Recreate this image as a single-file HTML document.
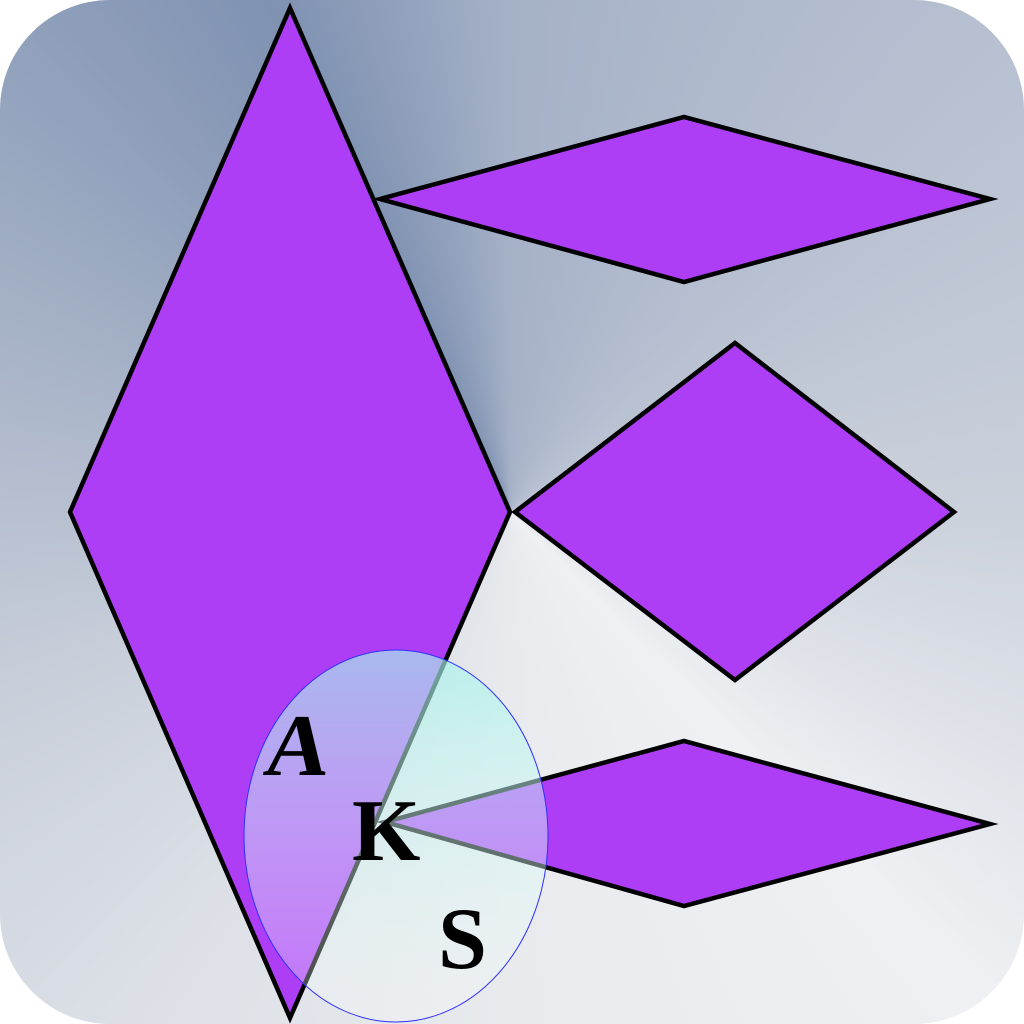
<!DOCTYPE html>
<html><head><meta charset="utf-8"><style>
html,body{margin:0;padding:0;width:1024px;height:1024px;overflow:hidden;background:#fff}
#bg{position:absolute;left:0;top:0;width:1024px;height:1024px;border-radius:110px;
background:conic-gradient(from 0deg at 510px 512px,#a5b1c7 0deg,#b9c2d2 50deg,#cbd1db 90deg,#eef0f3 135deg,#e8eaee 180deg,#dde1e7 215deg,#c9cfda 250deg,#a6b2c7 290deg,#7f92b2 335deg,#a5b1c7 360deg);}
svg{position:absolute;left:0;top:0}
</style></head><body>
<div id="bg"></div>
<svg width="1024" height="1024" viewBox="0 0 1024 1024">
<defs>
<linearGradient id="eg" x1="0" y1="0" x2="0" y2="1">
<stop offset="0" stop-color="#a6f4ea" stop-opacity="0.9"/>
<stop offset="1" stop-color="#ffffff" stop-opacity="0.35"/>
</linearGradient>
</defs>
<g fill="#ad3ef5" stroke="#000" stroke-width="4.5" stroke-linejoin="miter">
<polygon points="290,8 510,512 290,1018 70,512"/>
<polygon points="380,199 684,117 990,199 684,282"/>
<polygon points="515,512 735,343 954,512 735,680"/>
<polygon points="385,822 684,741 990,824 684,906"/>
</g>
<ellipse cx="396" cy="836" rx="152" ry="186" fill="url(#eg)" fill-opacity="0.75" stroke="#3030ff" stroke-width="1"/>
<g font-family="'Liberation Serif',serif" font-weight="bold" font-size="88" fill="#000">
<text x="266" y="775" transform="skewX(-8) translate(105,0)">A</text>
<text x="352" y="860">K</text>
<text x="438" y="968">S</text>
</g>
</svg>
</body></html>
